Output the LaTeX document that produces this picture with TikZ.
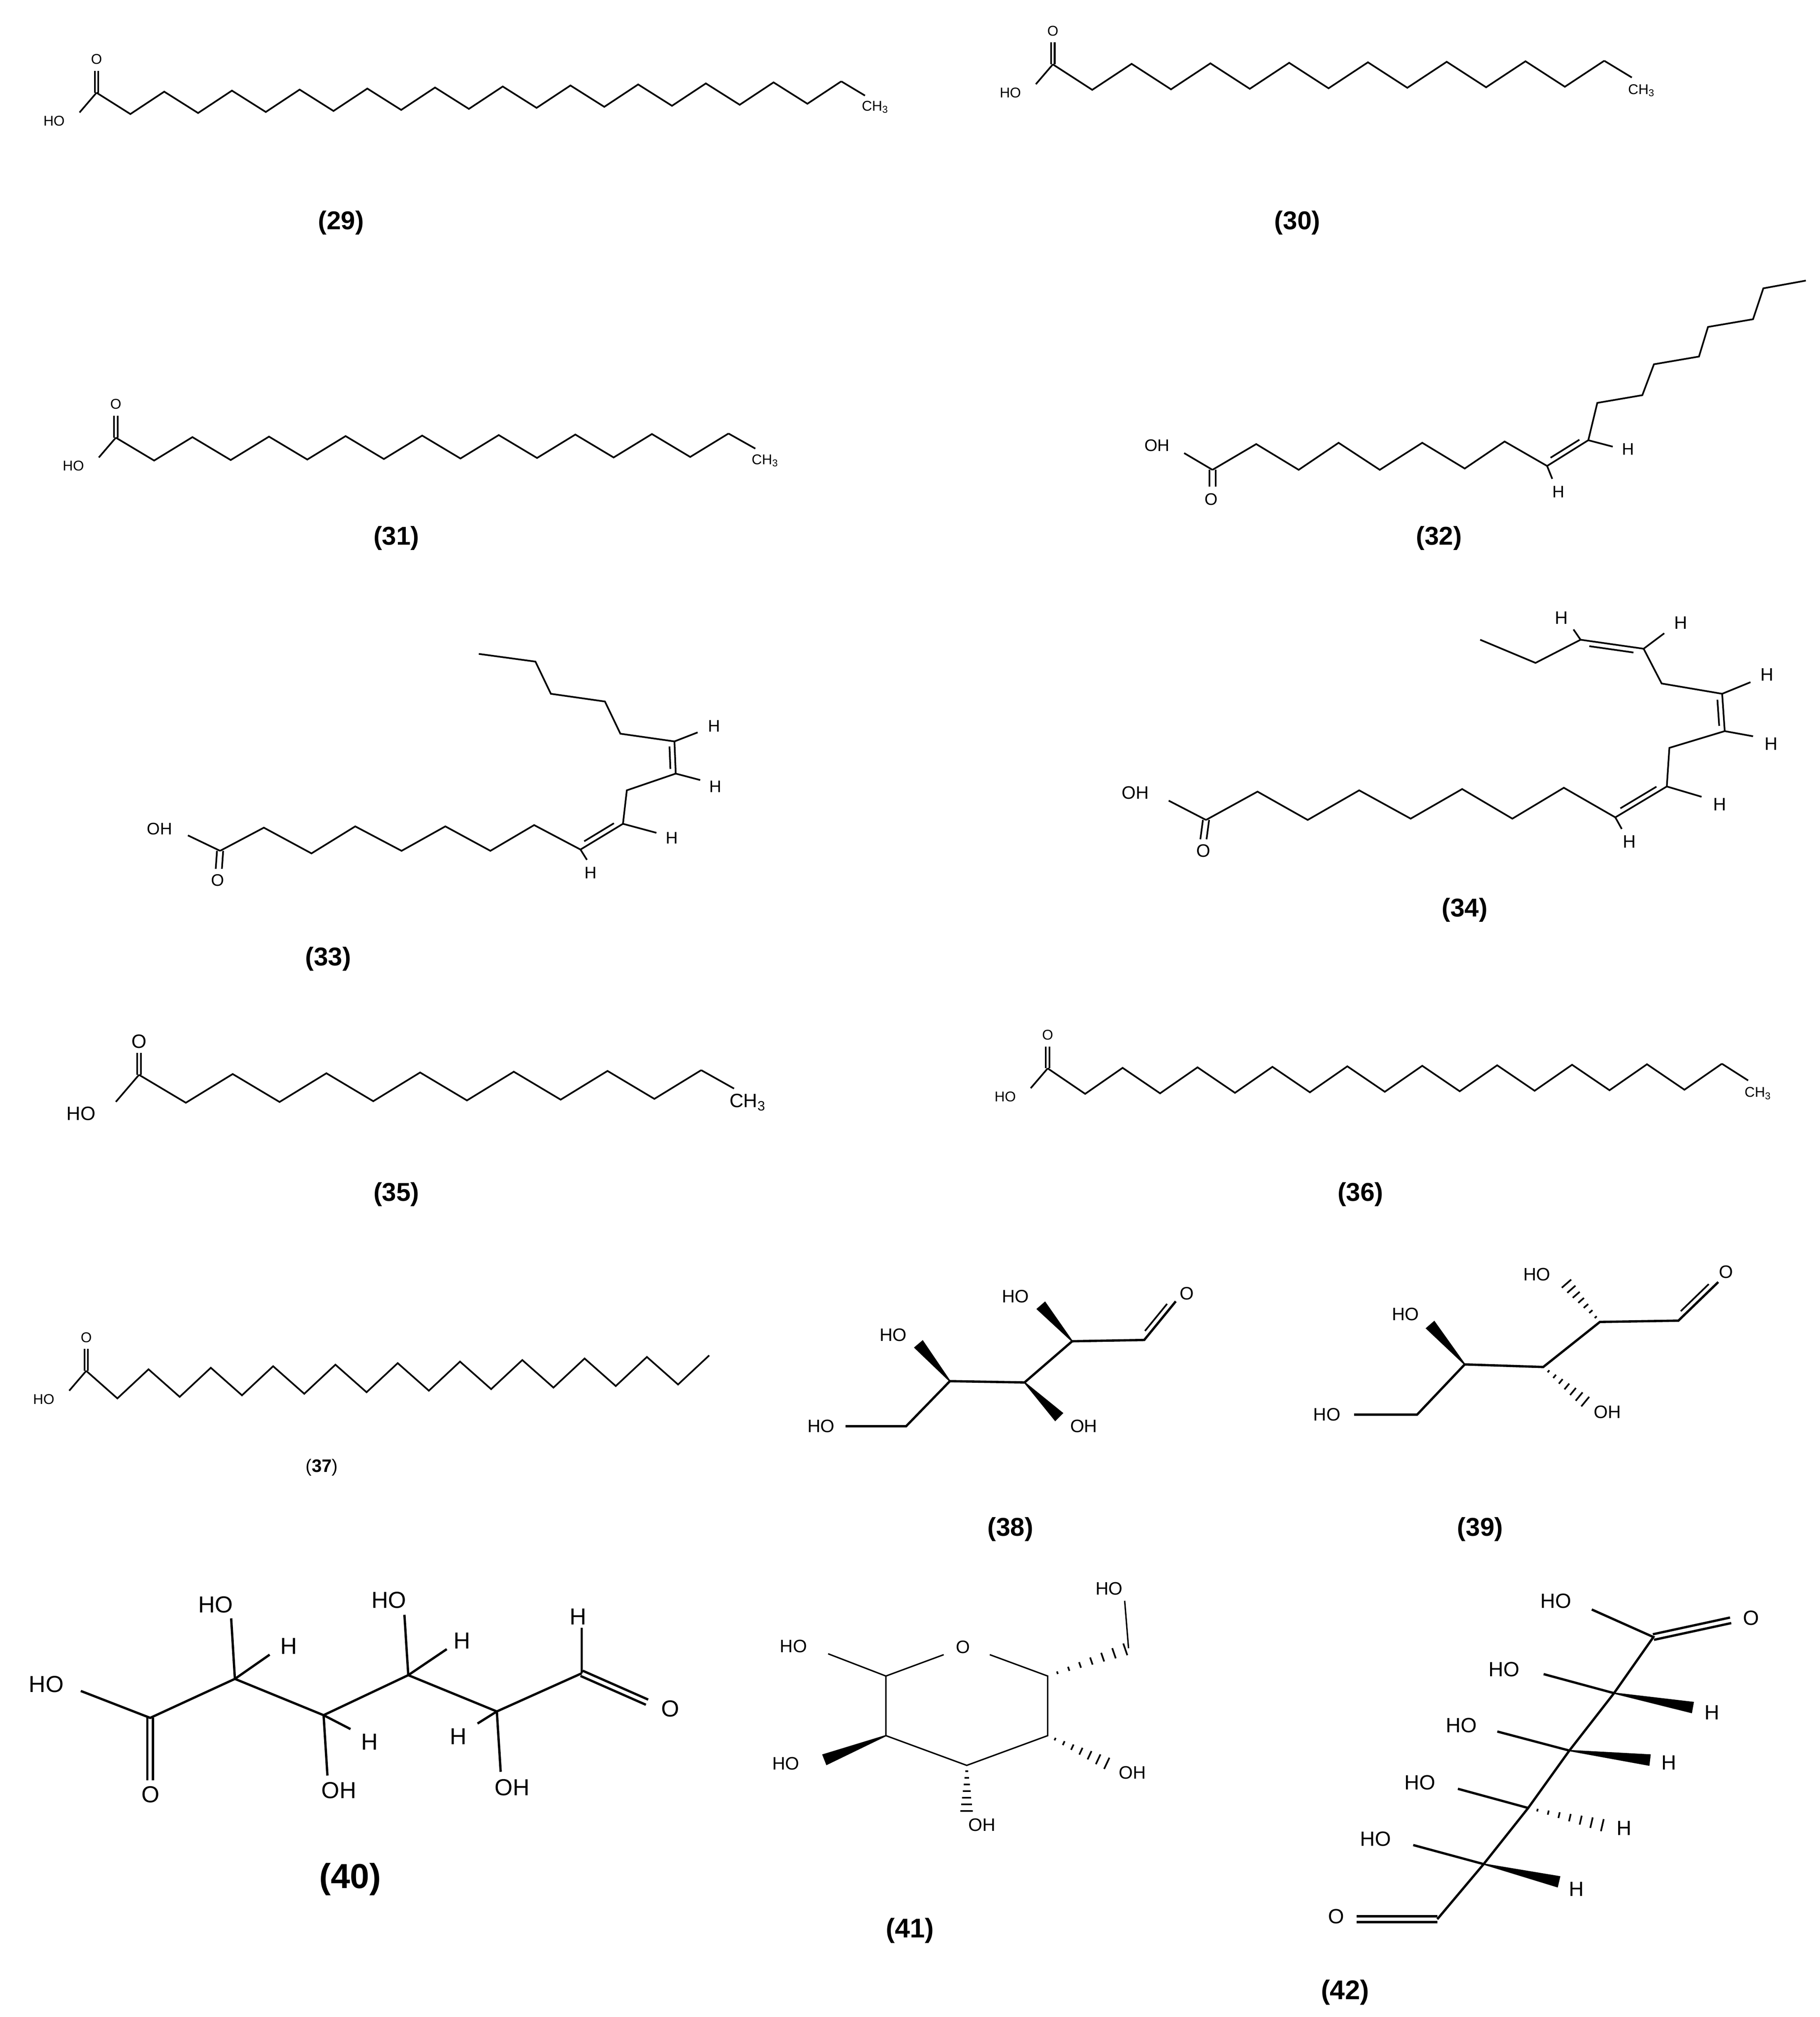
\documentclass[tikz,border=0pt]{standalone}
\usepackage{fontspec}
\setmainfont{Liberation Sans}
\usetikzlibrary{calc}
\tikzset{bond/.style={line width=1.3pt,line join=miter},
 sbond/.style={line width=1.8pt},
 lab/.style={inner sep=0pt,font=#1},
 caplab/.style={inner sep=0pt,font=\fontsize{20}{22}\selectfont\bfseries}}
\newcommand\fs[1]{\fontsize{#1}{#1}\selectfont}
\newcommand\satacid[7]{%
 \draw[bond] (#1,#2) \foreach \i in {1,...,#5}{ -- ({#1+\i*#3},{#2+mod(\i,2)*#4+\i*#6}) };
 \draw[bond] (#1-1.4,#2) -- (#1-1.4,#2-17) (#1+1.4,#2) -- (#1+1.4,#2-17);
 \node[lab=\fs{#7}] at (#1,#2-26) {O};
 \draw[bond] (#1,#2) -- ({#1-1.2*#7},{#2+1.4*#7});
 \node[lab=\fs{#7}] at ({#1-3*#7},{#2+2*#7}) {HO};}
\newcommand\methyl[7]{%
 \draw[bond] ({#1+#5*#3},{#2+#5*#6}) -- ({#1+#5*#3+0.7*#3},{#2+#5*#6+0.65*#4});
 \node[lab=\fs{#7},anchor=west] at ({#1+#5*#3+0.6*#3},{#2+#5*#6+#4+3}) {CH\textsubscript{3}};}
\newcommand\dbond[3]{%
 \path ($(#1)!0.15!(#2)$) coordinate (dd1) ($(#1)!0.85!(#2)$) coordinate (dd2);
 \draw[bond] ($(dd1)!#3!90:(#2)$) -- ($(dd2)!#3!-90:(#1)$);}
\newcommand\sdbond[3]{%
 \draw[sbond] ($(#1)!#3!90:(#2)$) -- ($(#2)!#3!-90:(#1)$);
 \draw[sbond] ($(#1)!#3!-90:(#2)$) -- ($(#2)!#3!90:(#1)$);}
\newcommand\wdg[2]{\fill ($(#1)!0.5pt!90:(#2)$) -- ($(#2)!4.5pt!-90:(#1)$) -- ($(#2)!4.5pt!90:(#1)$) -- ($(#1)!0.5pt!-90:(#2)$) -- cycle;}
\newcommand\hsh[2]{\foreach \t in {0.12,0.26,...,1.0}{%
 \path ($(#1)!\t!(#2)$) coordinate (hp);
 \draw[line width=1.3pt] ($(hp)!{\t*4.5pt+0.5pt}!90:(#2)$) -- ($(hp)!{\t*4.5pt+0.5pt}!-90:(#2)$);}}
\begin{document}
\begin{tikzpicture}[x=1pt,y=-1pt]
\useasboundingbox (0,0) rectangle (1414,1567);
% ---- saturated acids
\satacid{75}{72}{26.3}{17}{22}{-0.4}{11}\methyl{75}{72}{26.3}{17}{22}{-0.4}{11}
\satacid{818}{50}{30.6}{20}{14}{-0.2}{11}\methyl{818}{50}{30.6}{20}{14}{-0.2}{11}
\satacid{90}{340}{29.75}{18}{16}{-0.2}{11}\methyl{90}{340}{29.75}{18}{16}{-0.2}{11}
\satacid{108}{835}{36.4}{22}{12}{-0.3}{15}\methyl{108}{835}{36.4}{22}{12}{-0.3}{15}
\satacid{814}{830}{29.1}{20}{18}{-0.2}{11}\methyl{814}{830}{29.1}{20}{18}{-0.2}{11}
\satacid{67}{1065}{24.2}{22}{20}{-0.6}{11}
% ---- (32)
\begin{scope}
\node[lab=\fs{13}] at (899,346) {OH};
\node[lab=\fs{13}] at (941,388) {O};
\coordinate (a1) at (942,365); \coordinate (d1) at (1202,362); \coordinate (d2) at (1234,342);
\draw[bond] (920,352) -- (a1);
\draw[bond] (939.6,365) -- (939.6,378) (944.4,365) -- (944.4,378);
\draw[bond] (a1) -- (976,345) -- (1009,365) -- (1040,344) -- (1072,365) -- (1105,344) -- (1138,364) -- (1169,343) -- (d1) -- (d2)
 -- (1241,313) -- (1276,307) -- (1285,283) -- (1320,277) -- (1327,254) -- (1362,248) -- (1370,224) -- (1403,218);
\dbond{d1}{d2}{4pt}
\draw[bond] (d2) -- (1253,347); \node[lab=\fs{13}] at (1265,349) {H};
\draw[bond] (d1) -- (1206,372); \node[lab=\fs{13}] at (1211,382) {H};
\end{scope}
% ---- (33)
\begin{scope}
\node[lab=\fs{13}] at (124,644) {OH};
\node[lab=\fs{13}] at (169,684) {O};
\coordinate (b1) at (171,661); \coordinate (e1) at (451,660); \coordinate (e2) at (484,640);
\coordinate (e4) at (525,601); \coordinate (e5) at (524,576);
\draw[bond] (146,649) -- (b1);
\draw[bond] (168.6,661) -- (167.6,675) (173.4,661) -- (172.4,675);
\draw[bond] (b1) -- (205,643) -- (242,663) -- (276,642) -- (312,661) -- (346,642) -- (381,661) -- (415,641) -- (e1) -- (e2)
 -- (487,614) -- (e4) -- (e5) -- (482,570) -- (470,545) -- (428,539) -- (416,514) -- (372,508);
\dbond{e1}{e2}{4pt}\dbond{e4}{e5}{4pt}
\draw[bond] (e1) -- (456,668); \node[lab=\fs{13}] at (459,678) {H};
\draw[bond] (e2) -- (510,647); \node[lab=\fs{13}] at (522,651) {H};
\draw[bond] (e4) -- (544,606); \node[lab=\fs{13}] at (556,611) {H};
\draw[bond] (e5) -- (542,569); \node[lab=\fs{13}] at (555,564) {H};
\end{scope}
% ---- (34)
\begin{scope}
\node[lab=\fs{14}] at (882,616) {OH};
\node[lab=\fs{14}] at (935,661) {O};
\coordinate (g1) at (937,637); \coordinate (f1) at (1255,635); \coordinate (f2) at (1295,611);
\coordinate (f3) at (1340,568); \coordinate (f4) at (1338,539);
\coordinate (f5) at (1277,504); \coordinate (f6) at (1228,497);
\draw[bond] (908,622) -- (g1);
\draw[bond] (934.6,637) -- (932.6,652) (939.4,637) -- (937.4,652);
\draw[bond] (g1) -- (977,615) -- (1016,637) -- (1056,614) -- (1096,636) -- (1136,613) -- (1175,636) -- (1215,612) -- (f1) -- (f2)
 -- (1297,581) -- (f3) -- (f4) -- (1291,531) -- (f5) -- (f6) -- (1193,515) -- (1150,497);
\dbond{f1}{f2}{4pt}\dbond{f3}{f4}{4pt}\dbond{f5}{f6}{4pt}
\draw[bond] (f1) -- (1260,644); \node[lab=\fs{14}] at (1266,654) {H};
\draw[bond] (f2) -- (1322,619); \node[lab=\fs{14}] at (1336,625) {H};
\draw[bond] (f3) -- (1362,572); \node[lab=\fs{14}] at (1376,578) {H};
\draw[bond] (f4) -- (1360,530); \node[lab=\fs{14}] at (1373,524) {H};
\draw[bond] (f5) -- (1293,492); \node[lab=\fs{14}] at (1306,484) {H};
\draw[bond] (f6) -- (1222.5,489); \node[lab=\fs{14}] at (1213,480) {H};
\end{scope}
% ---- (38)
\begin{scope}
\coordinate (h5) at (704,1108); \coordinate (h4) at (738,1073); \coordinate (h3) at (796,1074);
\coordinate (h2) at (833,1042); \coordinate (h1) at (889,1041); \coordinate (hO) at (913.5,1011);
\coordinate (w4) at (713.5,1044); \coordinate (w3) at (823,1101); \coordinate (w2) at (808.6,1014);
\draw[sbond] (657,1108) -- (h5) -- (h4) -- (h3) -- (h2) -- (h1) -- (hO);
\dbond{h1}{hO}{4pt}
\wdg{h4}{w4}\wdg{h3}{w3}\wdg{h2}{w2}
\node[lab=\fs{14}] at (638,1108) {HO};
\node[lab=\fs{14}] at (694,1037) {HO};
\node[lab=\fs{14}] at (842,1108) {OH};
\node[lab=\fs{14}] at (789,1007) {HO};
\node[lab=\fs{14}] at (922,1005) {O};
\end{scope}
% ---- (39)
\begin{scope}
\coordinate (k5) at (1101,1099); \coordinate (k4) at (1138,1060); \coordinate (k3) at (1199,1062);
\coordinate (k2) at (1243,1027); \coordinate (k1) at (1304,1026); \coordinate (kO) at (1335,996);
\draw[sbond] (1052,1099) -- (k5) -- (k4) -- (k3) -- (k2) -- (k1) -- (kO);
\dbond{k1}{kO}{4pt}
\wdg{k4}{1111,1029}
\hsh{k3}{1233,1090}\hsh{k2}{1216,996}
\node[lab=\fs{14}] at (1031,1099) {HO};
\node[lab=\fs{14}] at (1092,1021) {HO};
\node[lab=\fs{14}] at (1249,1097) {OH};
\node[lab=\fs{14}] at (1194,990) {HO};
\node[lab=\fs{14}] at (1341,988) {O};
\end{scope}
% ---- (40)
\begin{scope}
\coordinate (m1) at (116.7,1334.6); \coordinate (m2) at (182.5,1304.3); \coordinate (m3) at (251.4,1332.5);
\coordinate (m4) at (317.2,1301.4); \coordinate (m5) at (386,1329.6); \coordinate (m6) at (451.9,1300);
\coordinate (mO1) at (116.7,1383); \coordinate (mO6) at (502.7,1322.4);
\draw[sbond] (62.8,1313.7) -- (m1) -- (m2) -- (m3) -- (m4) -- (m5) -- (m6);
\sdbond{m1}{mO1}{2.2pt}\sdbond{m6}{mO6}{2.2pt}
\draw[sbond] (m2) -- (179.6,1257.3) (m2) -- (209.5,1285.5);
\draw[sbond] (m3) -- (254.4,1379.4) (m3) -- (272.3,1343.3);
\draw[sbond] (m4) -- (314.2,1254.5) (m4) -- (347.1,1281.2);
\draw[sbond] (m5) -- (389,1376.5) (m5) -- (371,1339);
\draw[sbond] (m6) -- (451.9,1264.6);
\node[lab=\fs{18}] at (36,1308.6) {HO};
\node[lab=\fs{18}] at (117,1394) {O};
\node[lab=\fs{18}] at (167.6,1246.5) {HO};
\node[lab=\fs{18}] at (224.4,1279) {H};
\node[lab=\fs{18}] at (263.3,1391) {OH};
\node[lab=\fs{18}] at (287.3,1353.4) {H};
\node[lab=\fs{18}] at (302.2,1243) {HO};
\node[lab=\fs{18}] at (359.1,1274.7) {H};
\node[lab=\fs{18}] at (398,1388.8) {OH};
\node[lab=\fs{18}] at (356,1349.1) {H};
\node[lab=\fs{18}] at (449,1255.9) {H};
\node[lab=\fs{18}] at (520.7,1327.4) {O};
\end{scope}
% ---- (41)
\begin{scope}[line width=1.1pt]
\coordinate (r1) at (688.3,1302.1); \coordinate (r5) at (814,1302.1); \coordinate (r4) at (814,1348.4);
\coordinate (r3) at (751.1,1371.5); \coordinate (r2) at (688.3,1348.4);
\draw (643.4,1284.8) -- (r1) -- (733.2,1285.5);
\draw (769,1285.5) -- (r5) -- (r4) -- (r3) -- (r2) -- (r1);
\hsh{r5}{876.8,1280.5}
\draw (876.8,1280.5) -- (873.8,1243.6);
\hsh{r4}{861.8,1370.8}
\hsh{r3}{751.1,1408.3}
\wdg{r2}{640.4,1367.2}
\node[lab=\fs{14}] at (616.5,1279) {HO};
\node[lab=\fs{14}] at (748.1,1279.7) {O};
\node[lab=\fs{14}] at (861.8,1234.2) {HO};
\node[lab=\fs{14}] at (879.8,1377.3) {OH};
\node[lab=\fs{14}] at (763,1417.7) {OH};
\node[lab=\fs{14}] at (610.5,1370) {HO};
\end{scope}
% ---- (42)
\begin{scope}
\coordinate (n1) at (1284.6,1271.8); \coordinate (n2) at (1254,1315.4); \coordinate (n3) at (1219.3,1360);
\coordinate (n4) at (1187.3,1404.6); \coordinate (n5) at (1152.7,1448.2); \coordinate (n6) at (1116.7,1491);
\coordinate (nO1) at (1344.6,1258.8); \coordinate (nO6) at (1054,1491);
\draw[sbond] (1236.7,1250.4) -- (n1) -- (n2) -- (n3) -- (n4) -- (n5) -- (n6);
\sdbond{n1}{nO1}{2.2pt}\sdbond{n6}{nO6}{2.2pt}
\draw[sbond] (n2) -- (1199.3,1300.6) (n3) -- (1163.3,1345.2) (n4) -- (1132.7,1389.7) (n5) -- (1098,1433.4);
\wdg{n2}{1315.3,1326.6}\wdg{n3}{1282,1367.4}\hsh{n4}{1247.3,1418.5}\wdg{n5}{1211.3,1462}
\node[lab=\fs{16}] at (1208.7,1243.9) {HO};
\node[lab=\fs{16}] at (1360.6,1257) {O};
\node[lab=\fs{16}] at (1168.7,1296.9) {HO};
\node[lab=\fs{16}] at (1330,1330.3) {H};
\node[lab=\fs{16}] at (1135.3,1340.5) {HO};
\node[lab=\fs{16}] at (1296.6,1369.3) {H};
\node[lab=\fs{16}] at (1103.3,1385) {HO};
\node[lab=\fs{16}] at (1262,1420.4) {H};
\node[lab=\fs{16}] at (1068.7,1428.7) {HO};
\node[lab=\fs{16}] at (1224.7,1467.7) {H};
\node[lab=\fs{16}] at (1038,1489) {O};
\end{scope}
% ---- captions
\node[caplab] (c29) at (265,173) {(29)};
\node[caplab] (c30) at (1008,173) {(30)};
\node[caplab] (c31) at (308,418) {(31)};
\node[caplab] (c32) at (1118,418) {(32)};
\node[caplab] (c33) at (255,745) {(33)};
\node[caplab] (c34) at (1138,707) {(34)};
\node[caplab] (c35) at (308,928) {(35)};
\node[caplab] (c36) at (1057,928) {(36)};
\node[inner sep=0pt,font=\fs{14}] (c37) at (250,1140) {(\textbf{37})};
\node[caplab] (c38) at (785,1188) {(38)};
\node[caplab] (c39) at (1150,1188) {(39)};
\node[caplab,font=\fs{27}\bfseries] (c40) at (272,1460) {(40)};
\node[caplab,font=\fs{21}\bfseries] (c41) at (707,1500) {(41)};
\node[caplab,font=\fs{21}\bfseries] (c42) at (1045,1548) {(42)};
\end{tikzpicture}
\end{document}
